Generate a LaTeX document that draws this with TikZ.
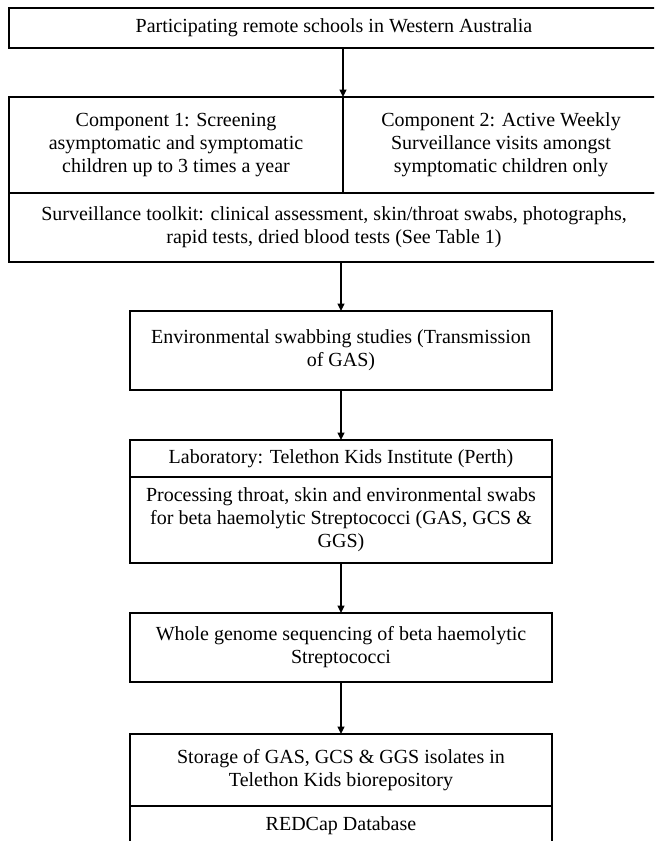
\documentclass[tikz,border=0pt]{standalone}
\usepackage{fontspec}
\setmainfont{Liberation Serif}
\usetikzlibrary{arrows.meta}
\begin{document}
\begin{tikzpicture}[x=1pt,y=-1pt,
  frame/.style={draw=black, line width=1.2pt, inner sep=0pt, outer sep=0pt},
  txt/.style={inner sep=0pt, outer sep=0pt, align=center,
              font=\fontsize{20}{23}\selectfont},
  box/.style={frame, txt},
  flow/.style={draw=black, line width=1.4pt, -{Triangle[length=7.5pt,width=7pt]}}]
\useasboundingbox (0,0) rectangle (654,841);
\fill[white] (0,0) rectangle (654,841);
\clip (0,0) rectangle (654,841);
% top section: frames run past the right edge of the picture
\node[frame, minimum width=681pt, minimum height=40pt] (top) at (349.5,28) {};
\node[txt] (toptext) at (334,28) {Participating remote schools in Western Australia};
\node[box, minimum width=334pt, minimum height=96pt] (c1) at (176,145)
  {Component 1: Screening\\asymptomatic and symptomatic\\children up to 3 times a year};
\node[frame, minimum width=347pt, minimum height=96pt] (c2) at (516.5,145) {};
\node[txt] (c2text) at (501,145)
  {Component 2: Active Weekly\\Surveillance visits amongst\\symptomatic children only};
\node[frame, minimum width=681pt, minimum height=69pt] (tool) at (349.5,227.5) {};
\node[txt] (tooltext) at (334,227.5)
  {Surveillance toolkit: clinical assessment, skin/throat swabs, photographs,\\rapid tests, dried blood tests (See Table 1)};
% lower chain
\node[box, minimum width=422pt, minimum height=79pt] (env) at (341,350.5)
  {Environmental swabbing studies (Transmission\\of GAS)};
\node[box, minimum width=422pt, minimum height=37pt] (lab) at (341,458.5)
  {Laboratory: Telethon Kids Institute (Perth)};
\node[box, minimum width=422pt, minimum height=86pt] (proc) at (341,520)
  {Processing throat, skin and environmental swabs\\for beta haemolytic Streptococci (GAS, GCS \&\\GGS)};
\node[box, minimum width=422pt, minimum height=69pt] (wgs) at (341,647.5)
  {Whole genome sequencing of beta haemolytic\\Streptococci};
\node[box, minimum width=422pt, minimum height=72pt] (store) at (341,770)
  {Storage of GAS, GCS \& GGS isolates in\\Telethon Kids biorepository};
\node[box, minimum width=422pt, minimum height=40pt] (redcap) at (341,826)
  {REDCap Database};
% connectors
\draw[flow] (top.south -| c1.east) -- (c1.north east);
\draw[flow] (tool.south -| env.north) -- (env.north);
\draw[flow] (env.south) -- (lab.north);
\draw[flow] (proc.south) -- (wgs.north);
\draw[flow] (wgs.south) -- (store.north);
\end{tikzpicture}
\end{document}
